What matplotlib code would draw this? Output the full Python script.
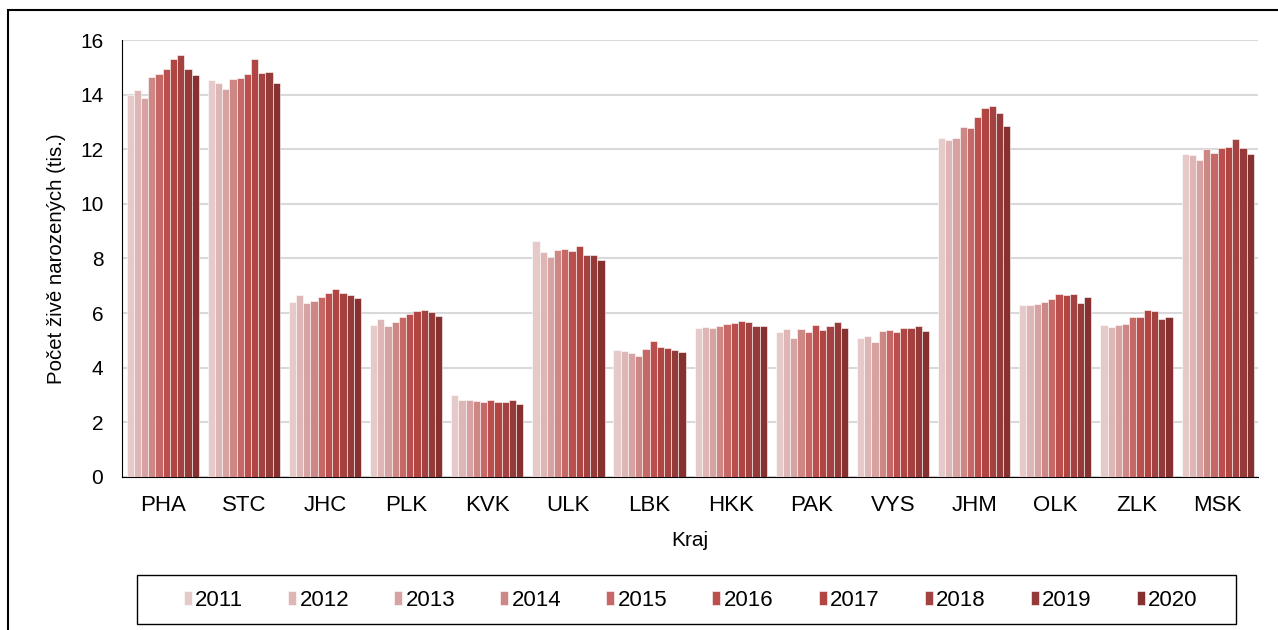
import numpy as np
import matplotlib
matplotlib.use("Agg")
import matplotlib.pyplot as plt
from matplotlib.patches import Rectangle

plt.rcParams['font.family'] = ['Liberation Sans', 'DejaVu Sans']

kraje = ["PHA", "STC", "JHC", "PLK", "KVK", "ULK", "LBK", "HKK", "PAK", "VYS",
         "JHM", "OLK", "ZLK", "MSK"]
roky = ["2011", "2012", "2013", "2014", "2015", "2016", "2017", "2018", "2019", "2020"]

# pocet zive narozenych (tis.), radky = kraje, sloupce = roky
hodnoty = [
    [13.97, 14.18, 13.88, 14.63, 14.77, 14.93, 15.32, 15.46, 14.93, 14.72],  # PHA
    [14.53, 14.43, 14.22, 14.58, 14.60, 14.76, 15.32, 14.79, 14.84, 14.44],  # STC
    [6.39, 6.65, 6.37, 6.43, 6.60, 6.74, 6.90, 6.75, 6.67, 6.56],            # JHC
    [5.57, 5.78, 5.52, 5.68, 5.87, 5.95, 6.07, 6.11, 6.04, 5.89],            # PLK
    [3.01, 2.83, 2.83, 2.77, 2.74, 2.82, 2.76, 2.76, 2.83, 2.69],            # KVK
    [8.64, 8.22, 8.07, 8.30, 8.33, 8.27, 8.45, 8.11, 8.11, 7.95],            # ULK
    [4.66, 4.60, 4.54, 4.44, 4.69, 4.97, 4.76, 4.74, 4.66, 4.57],            # LBK
    [5.46, 5.48, 5.46, 5.53, 5.59, 5.63, 5.71, 5.69, 5.51, 5.53],            # HKK
    [5.32, 5.40, 5.09, 5.42, 5.31, 5.56, 5.38, 5.53, 5.69, 5.47],            # PAK
    [5.09, 5.16, 4.93, 5.35, 5.37, 5.32, 5.46, 5.45, 5.51, 5.36],            # VYS
    [12.41, 12.34, 12.41, 12.81, 12.76, 13.19, 13.50, 13.59, 13.33, 12.86],  # JHM
    [6.31, 6.30, 6.32, 6.40, 6.50, 6.69, 6.67, 6.69, 6.36, 6.58],            # OLK
    [5.57, 5.49, 5.58, 5.59, 5.85, 5.87, 6.10, 6.08, 5.78, 5.84],            # ZLK
    [11.81, 11.78, 11.61, 12.00, 11.86, 12.05, 12.08, 12.39, 12.05, 11.82],  # MSK
]

barvy = ["#e6caca", "#dfb6b6", "#d6a2a2", "#cd8886", "#c66866",
         "#bb4f4d", "#b04542", "#a34240", "#943a39", "#86302f"]

data = np.array(hodnoty)
x = np.arange(len(kraje))
w = 0.089
W, H = 1278, 630

fig = plt.figure(figsize=(12.78, 6.30), dpi=100)
ax = fig.add_axes([0.0955, 0.2429, 0.889, 0.6936])

for j, rok in enumerate(roky):
    ax.bar(x + (j - 4.5) * w, data[:, j], width=w, color=barvy[j],
           edgecolor="white", linewidth=0.4, label=rok, zorder=3)

ax.set_ylim(0, 16)
ax.set_yticks(range(0, 17, 2))
ax.set_xlim(-0.5, len(kraje) - 0.5)
ax.set_xticks(x)
ax.set_xticklabels(kraje)
ax.tick_params(axis="x", length=0, labelsize=16, pad=13)
ax.tick_params(axis="y", length=0, labelsize=15, pad=13.5)
ax.grid(axis="y", color="#d9d9d9", linewidth=1.5, zorder=0)
for s in ["top", "right"]:
    ax.spines[s].set_visible(False)
ax.spines["left"].set_color("black")
ax.spines["bottom"].set_color("black")

ax.set_xlabel("Kraj", fontsize=15, labelpad=11)
ax.set_ylabel("Počet živě narozených (tis.)", fontsize=14.7, labelpad=10)

leg = fig.legend(loc="center", bbox_to_anchor=(690.5 / W, 1 - 600 / H), ncol=10,
                 fontsize=16, frameon=False,
                 handlelength=0.36, handleheight=0.6, handletextpad=0.15,
                 columnspacing=2.03, borderpad=0.3)

# ramecek legendy
fig.patches.append(Rectangle((137 / W, 1 - 624 / H), 1099 / W, 49 / H,
                             transform=fig.transFigure, fill=False,
                             edgecolor="black", linewidth=1.0))

# vnejsi ramecek grafu
fig.patches.append(Rectangle((8 / W, -0.02), 1.02, 0.984 + 0.02,
                             transform=fig.transFigure, fill=False,
                             edgecolor="black", linewidth=1.5))

fig.savefig("out.png", dpi=100)
